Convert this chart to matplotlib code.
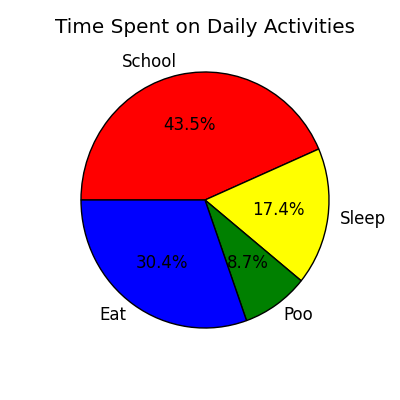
import matplotlib
matplotlib.use("Agg")
import matplotlib.pyplot as plt

labels = ["School", "Sleep", "Poo", "Eat"]
values = [10, 4, 2, 7]
colors = ["red", "yellow", "green", "blue"]

plt.style.use("classic")
fig = plt.figure(figsize=(4, 4), dpi=100, facecolor="white")
ax = fig.add_axes([0.125, 0.1, 0.775, 0.8])
ax.pie(values, labels=labels, colors=colors, autopct="%1.1f%%",
       startangle=180, counterclock=False,
       wedgeprops={"edgecolor": "black", "linewidth": 1},
       textprops={"fontsize": 12})
ax.set_aspect("auto")
ax.set_xlim(-1.25, 1.25)
ax.set_ylim(-1.25, 1.25)
ax.set_title("Time Spent on Daily Activities", fontsize=14.4)
fig.savefig("out.png", dpi=100, facecolor="white")
